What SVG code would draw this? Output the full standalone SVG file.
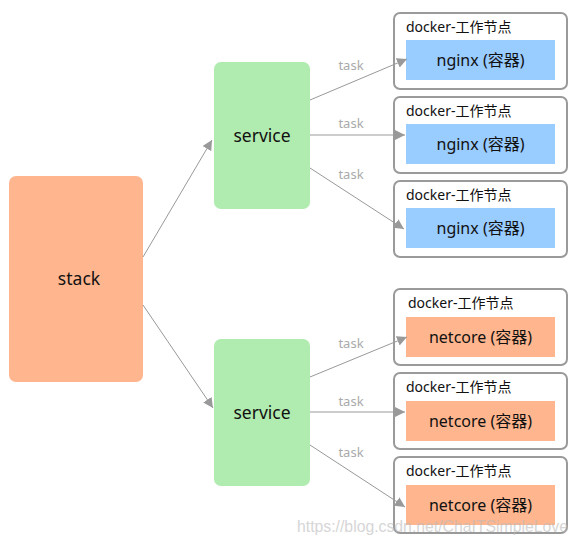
<svg xmlns="http://www.w3.org/2000/svg" width="579" height="544" viewBox="0 0 579 544">
<defs>
<marker id="ah" viewBox="0 0 10 10" refX="10" refY="5" markerWidth="10" markerHeight="10" markerUnits="userSpaceOnUse" orient="auto">
<path d="M0,0 L10,5 L0,10 z" fill="#999"/>
</marker>
</defs>
<style>
text{font-family:"Noto Sans","Noto Sans CJK SC",sans-serif;fill:#111}
.big{font-size:17.5px;text-anchor:middle}
.title{font-size:14px}
.inner{font-size:16px;text-anchor:middle}
.task{font-size:13px;fill:#aaa;text-anchor:middle}
.node{fill:#fff;stroke:#9a9a9a;stroke-width:2}
.blue{fill:#99ccff}
.org{fill:#ffb58e}
.conn line{stroke:#999;stroke-width:1;marker-end:url(#ah)}
.wm{font-family:"Liberation Sans",sans-serif;font-size:17px;fill:#bbb;opacity:0.6}
</style>
<rect width="579" height="544" fill="#fff"/>
<g id="stack">
<rect x="9" y="176" width="134" height="206" rx="7" fill="#ffb68f"/>
<text class="big" x="79" y="285" font-size="19">stack</text>
</g>
<g id="service1">
<rect x="214" y="62" width="96" height="147" rx="7" fill="#b0ebaf"/>
<text class="big" x="262" y="142">service</text>
</g>
<g id="service2">
<rect x="214" y="339" width="96" height="147" rx="7" fill="#b0ebaf"/>
<text class="big" x="262" y="419">service</text>
</g>
<g id="docker1">
<rect class="node" x="394" y="13" width="173" height="76" rx="6"/>
<text class="title" x="406" y="32">docker-工作节点</text>
<rect class="blue" x="406" y="40" width="149" height="40"/>
<text class="inner" x="480.5" y="66">nginx (容器)</text>
</g>
<g id="docker2">
<rect class="node" x="394" y="97" width="173" height="76" rx="6"/>
<text class="title" x="406" y="116">docker-工作节点</text>
<rect class="blue" x="406" y="124" width="149" height="40"/>
<text class="inner" x="480.5" y="150">nginx (容器)</text>
</g>
<g id="docker3">
<rect class="node" x="394" y="181" width="173" height="76" rx="6"/>
<text class="title" x="406" y="200">docker-工作节点</text>
<rect class="blue" x="406" y="208" width="149" height="40"/>
<text class="inner" x="480.5" y="234">nginx (容器)</text>
</g>
<g id="docker4">
<rect class="node" x="394" y="289" width="173" height="76" rx="6"/>
<text class="title" x="408" y="308">docker-工作节点</text>
<rect class="org" x="406" y="317" width="149" height="40"/>
<text class="inner" x="480.5" y="343">netcore (容器)</text>
</g>
<g id="docker5">
<rect class="node" x="394" y="373" width="173" height="76" rx="6"/>
<text class="title" x="406" y="392">docker-工作节点</text>
<rect class="org" x="406" y="401" width="149" height="40"/>
<text class="inner" x="480.5" y="427">netcore (容器)</text>
</g>
<g id="docker6">
<rect class="node" x="394" y="457" width="173" height="76" rx="6"/>
<text class="title" x="406" y="476">docker-工作节点</text>
<rect class="org" x="406" y="485" width="149" height="40"/>
<text class="inner" x="480.5" y="511">netcore (容器)</text>
</g>
<g id="connectors" class="conn">
<line x1="143" y1="257" x2="212" y2="140"/>
<line x1="143" y1="305" x2="213" y2="408"/>
<line x1="310" y1="100" x2="407" y2="59"/>
<line x1="310" y1="135" x2="405" y2="135"/>
<line x1="310" y1="168" x2="404" y2="229"/>
<line x1="310" y1="377" x2="407" y2="337"/>
<line x1="310" y1="412" x2="405" y2="412"/>
<line x1="310" y1="445" x2="405" y2="507"/>
<text class="task" x="351" y="70">task</text>
<text class="task" x="351" y="128">task</text>
<text class="task" x="351" y="179">task</text>
<text class="task" x="351" y="348">task</text>
<text class="task" x="351" y="406">task</text>
<text class="task" x="351" y="457">task</text>
</g>
<text class="wm" x="297" y="532" textLength="271" lengthAdjust="spacingAndGlyphs">https://blog.csdn.net/ChaITSimpleLove</text>
</svg>
